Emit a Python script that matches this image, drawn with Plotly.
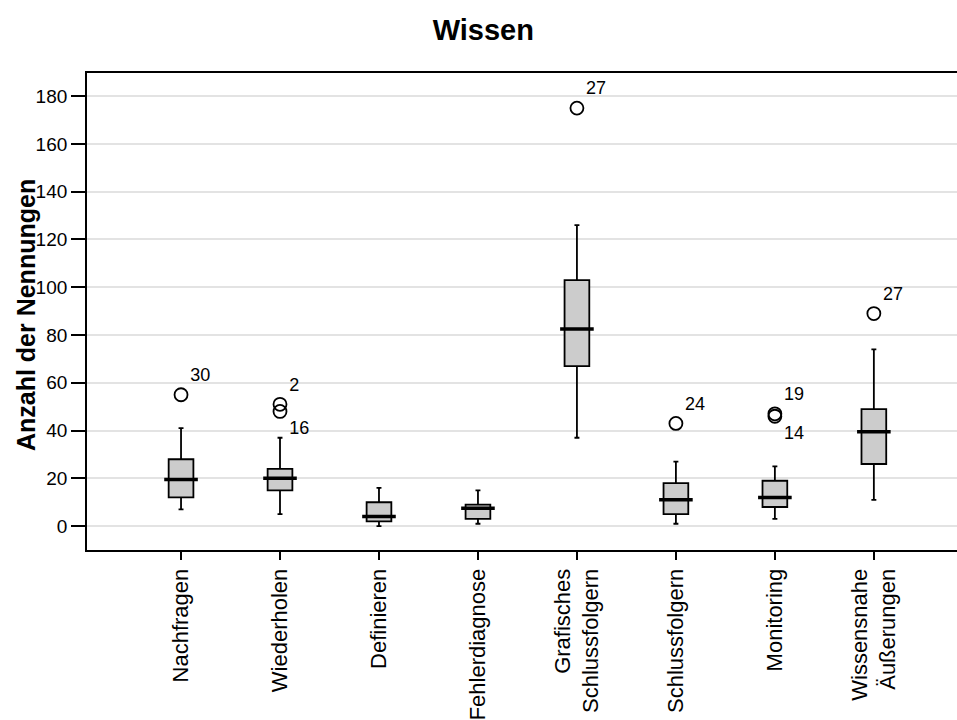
import plotly.graph_objects as go

categories = ["Nachfragen", "Wiederholen", "Definieren", "Fehlerdiagnose",
              "Grafisches<br>Schlussfolgern", "Schlussfolgern", "Monitoring",
              "Wissensnahe<br>Äußerungen"]
lower_whisker = [7, 5, 0, 1, 37, 1, 3, 11]
q1_values = [12, 15, 2, 3, 67, 5, 8, 26]
median_values = [19.5, 20, 4, 7.5, 82.5, 11, 12, 39.5]
q3_values = [28, 24, 10, 9, 103, 18, 19, 49]
upper_whisker = [41, 37, 16, 15, 126, 27, 25, 74]

outlier_category = ["Nachfragen", "Wiederholen", "Wiederholen",
                    "Grafisches<br>Schlussfolgern", "Schlussfolgern",
                    "Monitoring", "Monitoring", "Wissensnahe<br>Äußerungen"]
outlier_values = [55, 51, 48, 175, 43, 47, 46, 89]
outlier_labels = ["30", "2", "16", "27", "24", "19", "14", "27"]
outlier_label_pos = ["top right", "top right", "bottom right", "top right",
                     "top right", "top right", "bottom right", "top right"]

FONT = "Liberation Sans, Arial, sans-serif"

fig = go.Figure()
fig.add_trace(go.Box(
    x=categories, q1=q1_values, median=median_values, q3=q3_values,
    lowerfence=lower_whisker, upperfence=upper_whisker,
    fillcolor="#cccccc", line=dict(color="black", width=1.8),
    width=0.25, whiskerwidth=0.2, boxpoints=False, showlegend=False,
    hoverinfo="skip",
))
# thicker median lines
fig.add_trace(go.Scatter(
    x=categories, y=median_values, mode="markers",
    marker=dict(symbol="line-ew-open", size=24, color="black",
                line=dict(color="black", width=3.5)),
    showlegend=False, hoverinfo="skip",
))
fig.add_trace(go.Scatter(
    x=outlier_category, y=outlier_values, mode="markers+text",
    text=outlier_labels, textposition=outlier_label_pos,
    textfont=dict(family=FONT, size=18, color="black"),
    marker=dict(symbol="circle-open", size=13, color="black",
                line=dict(color="black", width=1.8)),
    showlegend=False, hoverinfo="skip",
))

fig.update_layout(
    width=957, height=720,
    paper_bgcolor="white", plot_bgcolor="white",
    margin=dict(l=87, r=0, t=73, b=170, autoexpand=False),
    font=dict(family=FONT, size=18, color="black"),
    title=dict(text="<b>Wissen</b>", x=0.505, xanchor="center", y=0.958, yanchor="middle",
               font=dict(family=FONT, size=29, color="black")),
    annotations=[dict(
        text="<b>Anzahl der Nennungen</b>", textangle=-90,
        xref="paper", yref="paper", x=-0.070, y=0.4927,
        xanchor="center", yanchor="middle", showarrow=False,
        font=dict(family=FONT, size=25, color="black"),
    )],
)
fig.update_xaxes(
    type="category", range=[-0.95, 7.84], automargin=False,
    showline=True, linecolor="black", linewidth=1.8, mirror=True,
    ticks="outside", ticklen=8, tickwidth=1.8, tickcolor="black",
    tickangle=-90, showgrid=False,
    tickfont=dict(family=FONT, size=22, color="black"),
)
fig.update_yaxes(
    range=[-10, 189.7], tickvals=list(range(0, 181, 20)), automargin=False,
    showline=True, linecolor="black", linewidth=1.8, mirror=False,
    ticks="outside", ticklen=14, tickwidth=1.8, tickcolor="black",
    showgrid=True, gridcolor="#e3e3e3", gridwidth=1.5, zeroline=False,
    tickfont=dict(family=FONT, size=19, color="black"),
)

fig.write_html(
    "out.html",
    config={"displayModeBar": False},
    post_script="document.body.style.margin='0';document.body.style.overflow='hidden';",
)
